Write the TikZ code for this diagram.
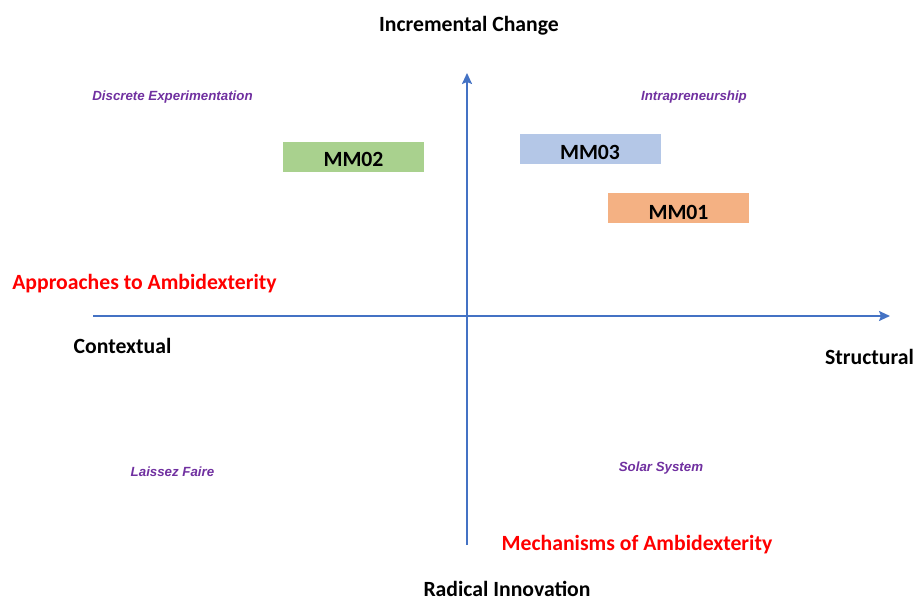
\documentclass[tikz,border=0pt]{standalone}
\usepackage{fontspec}
\setmainfont{Carlito}
\newfontfamily\arialf{Liberation Sans}
\usetikzlibrary{arrows.meta}
\definecolor{axisblue}{HTML}{4472C4}
\definecolor{quadpurple}{HTML}{7030A0}
\definecolor{boxgreen}{HTML}{A9D18E}
\definecolor{boxblue}{HTML}{B4C7E7}
\definecolor{boxorange}{HTML}{F4B183}
\begin{document}
\begin{tikzpicture}[x=1pt,y=-1pt,
  axislabel/.style={anchor=base,inner sep=0pt,font=\fontsize{21.7}{26}\selectfont\bfseries},
  redlabel/.style={axislabel,text=red},
  quadlabel/.style={anchor=base,inner sep=0pt,text=quadpurple,font=\arialf\fontsize{13.3}{16}\selectfont\bfseries\itshape},
  mmbox/.style={minimum width=141pt,minimum height=30pt,inner sep=0pt,font=\fontsize{21.7}{26}\selectfont\bfseries},
  axisline/.style={draw=axisblue,line width=1.8pt,-{Stealth[length=11pt,width=10pt,inset=2pt]}}]
\useasboundingbox (0,0) rectangle (917,601);
% axes
\coordinate (vbot) at (467,545);
\coordinate (vtop) at (467,73);
\coordinate (hleft) at (93,316);
\coordinate (hright) at (890,316);
\draw[axisline] (vbot) -- (vtop);
\draw[axisline] (hleft) -- (hright);
% axis labels
\node[axislabel] (inc) at (469,32) {Incremental Change};
\node[axislabel] (ctx) at (122.5,353) {Contextual};
\node[axislabel] (str) at (869.5,364) {Structural};
\node[axislabel] (rad) at (507,596.5) {Radical Innovation};
\node[redlabel] (appr) at (144.5,290) {Approaches to Ambidexterity};
\node[redlabel] (mech) at (637,550) {Mechanisms of Ambidexterity};
% quadrant labels
\node[quadlabel] (disc) at (172.5,101) {Discrete Experimentation};
\node[quadlabel] (intra) at (694,101) {Intrapreneurship};
\node[quadlabel] (lais) at (172.5,476) {Laissez Faire};
\node[quadlabel] (solar) at (661,471) {Solar System};
% boxes
\node[mmbox,fill=boxgreen] (mm02) at (353.5,157) {};
\node[mmbox,fill=boxblue] (mm03) at (590,149) {};
\node[mmbox,fill=boxorange] (mm01) at (678.5,208.5) {};
\node[axislabel] (mm02t) at (353.5,167) {MM02};
\node[axislabel] (mm03t) at (590,160) {MM03};
\node[axislabel] (mm01t) at (678.5,220) {MM01};
\end{tikzpicture}
\end{document}
